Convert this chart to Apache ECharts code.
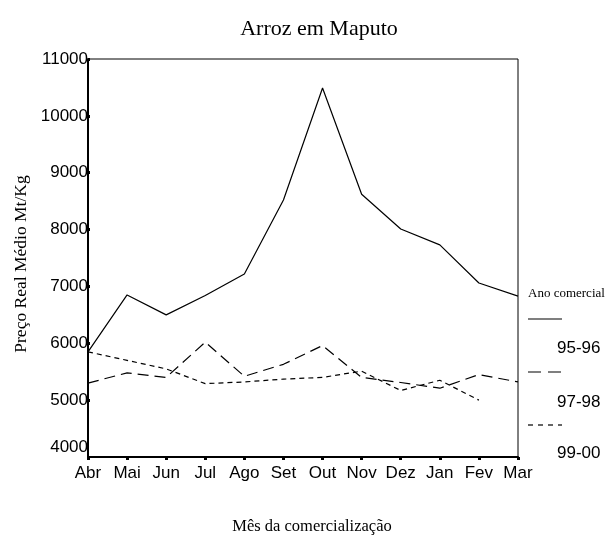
<!DOCTYPE html>
<html>
<head>
<meta charset="utf-8">
<script src="https://cdn.jsdelivr.net/npm/echarts@6/dist/echarts.min.js"></script>
<style>
html,body{margin:0;padding:0;background:#fff;}
#chart{width:607px;height:540px;}
</style>
</head>
<body>
<div id="chart"></div>
<script>
var months = ['Abr','Mai','Jun','Jul','Ago','Set','Out','Nov','Dez','Jan','Fev','Mar'];
var s9596 = [5850, 6850, 6500, 6840, 7220, 8520, 10490, 8620, 8010, 7730, 7060, 6830];
var s9798 = [5300, 5480, 5400, 6020, 5420, 5630, 5960, 5400, 5310, 5210, 5450, 5320];
var s9900 = [5850, 5700, 5550, 5290, 5320, 5370, 5400, 5510, 5170, 5350, 5000, null];
var seriesNames = ['95-96', '97-98', '99-00'];
var yTicks = [4000, 11000, 1000];

var chart = echarts.init(document.getElementById('chart'));
var serif = '"Liberation Serif", "Times New Roman", serif';
var sans = '"Liberation Sans", Arial, sans-serif';

var legendX1 = 528, legendX2 = 562;
var option = {
  animation: false,
  backgroundColor: '#fff',
  title: {
    text: 'Arroz em Maputo',
    left: 314,
    textAlign: 'center',
    top: 13,
    textStyle: {fontFamily: serif, fontWeight: 'normal', fontSize: 22, color: '#000'}
  },
  grid: {
    left: 88, right: 89, top: 59, bottom: 78,
    show: true, borderColor: '#000', borderWidth: 1, backgroundColor: 'transparent'
  },
  xAxis: {
    type: 'category',
    data: months,
    boundaryGap: false,
    axisLine: {lineStyle: {color: '#000', width: 2}},
    axisTick: {show: true, alignWithLabel: true, interval: 0, length: 3, lineStyle: {color: '#000', width: 3}},
    axisLabel: {color: '#000', fontFamily: sans, fontSize: 17, margin: 8, interval: 0},
    splitLine: {show: false},
    name: 'Mês da comercialização',
    nameLocation: 'middle',
    nameGap: 61,
    nameTextStyle: {fontFamily: serif, fontSize: 16.5, color: '#000', padding: [0, 0, 0, 18]}
  },
  yAxis: {
    type: 'value',
    min: yTicks[0], max: yTicks[1], interval: yTicks[2],
    axisLine: {show: true, lineStyle: {color: '#000', width: 2}},
    axisTick: {show: true, inside: true, length: 2, lineStyle: {color: '#000', width: 3}},
    splitLine: {show: false},
    axisLabel: {
      color: '#000', fontFamily: sans, fontSize: 17, margin: 0,
      formatter: function (v) { return v === yTicks[0] ? '{low|' + v + '}' : String(v); },
      rich: {low: {fontFamily: sans, fontSize: 17, color: '#000', padding: [0, 0, 20, 0]}}
    }
  },
  series: [
    {name: seriesNames[0], type: 'line', data: s9596, symbol: 'none',
     lineStyle: {color: '#000', width: 1.2, type: 'solid'}},
    {name: seriesNames[1], type: 'line', data: s9798, symbol: 'none',
     lineStyle: {color: '#000', width: 1.2, type: [11, 6]}},
    {name: seriesNames[2], type: 'line', data: s9900, symbol: 'none', connectNulls: false,
     lineStyle: {color: '#000', width: 1.2, type: [5, 4]}}
  ],
  graphic: [
    {type: 'text', x: 21, y: 264, rotation: Math.PI / 2,
     style: {text: 'Preço Real Médio Mt/Kg', font: '17.5px ' + serif, fill: '#000', textAlign: 'center', textVerticalAlign: 'middle'}},
    {type: 'text', x: 528, y: 294, style: {text: 'Ano comercial', font: '13px ' + serif, fill: '#000', textVerticalAlign: 'middle'}},
    {type: 'line', shape: {x1: legendX1, y1: 319, x2: legendX2, y2: 319}, style: {stroke: '#000', lineWidth: 1.2}},
    {type: 'text', x: 557, y: 348, style: {text: seriesNames[0], font: '17px ' + sans, fill: '#000', textVerticalAlign: 'middle'}},
    {type: 'line', shape: {x1: legendX1, y1: 372, x2: legendX2, y2: 372}, style: {stroke: '#000', lineWidth: 1.2, lineDash: [13, 7]}},
    {type: 'text', x: 557, y: 402, style: {text: seriesNames[1], font: '17px ' + sans, fill: '#000', textVerticalAlign: 'middle'}},
    {type: 'line', shape: {x1: legendX1, y1: 425, x2: legendX2, y2: 425}, style: {stroke: '#000', lineWidth: 1.2, lineDash: [5, 5]}},
    {type: 'text', x: 557, y: 453, style: {text: seriesNames[2], font: '17px ' + sans, fill: '#000', textVerticalAlign: 'middle'}}
  ]
};
chart.setOption(option);
</script>
</body>
</html>
